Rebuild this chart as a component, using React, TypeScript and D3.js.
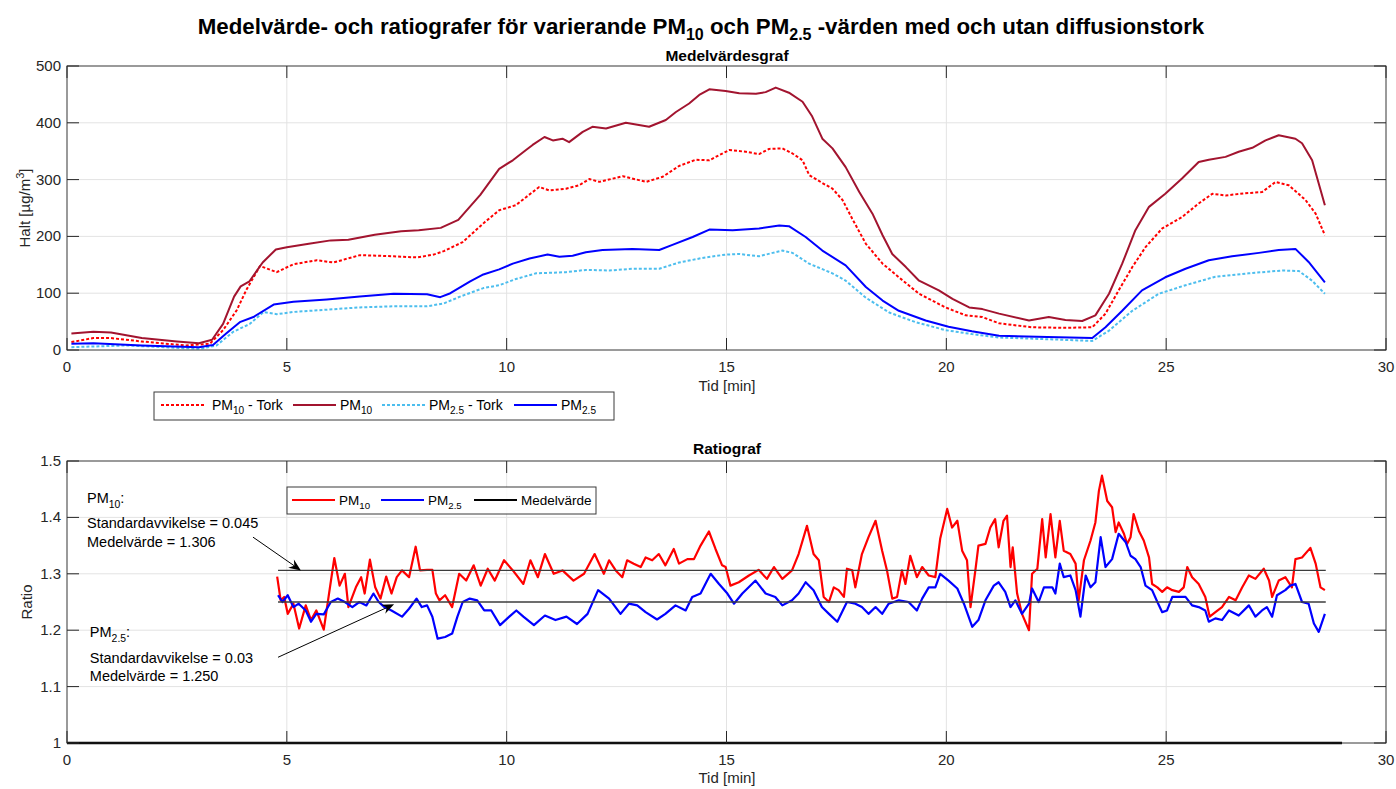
import React from "react";
import * as d3 from "d3";

// ---------- Top chart (Medelvärdesgraf) ----------
const pm10TorkT = [0.1, 0.6, 1.0, 1.7, 2.7, 3.25, 3.55, 3.86, 4.08, 4.39, 4.77, 5.15, 5.68, 6.06, 6.66, 7.43, 7.96, 8.34, 8.57, 9.0, 9.5, 9.83, 10.21, 10.44, 10.74, 10.97, 11.35, 11.65, 11.88, 12.11, 12.64, 13.17, 13.55, 13.92, 14.3, 14.61, 14.83, 15.06, 15.44, 15.74, 15.97, 16.27, 16.5, 16.73, 16.88, 17.18, 17.41, 17.64, 17.86, 18.17, 18.55, 18.92, 19.38, 19.98, 20.44, 20.82, 21.2, 21.95, 22.71, 23.32, 23.62, 23.92, 24.23, 24.53, 24.91, 25.36, 25.74, 26.05, 26.35, 26.8, 27.18, 27.49, 27.79, 28.17, 28.4, 28.61];
const pm10TorkV = [14, 21, 21, 15, 8, 11, 35, 70, 106, 148, 137, 151, 158, 154, 167, 165, 163, 168, 174, 190, 225, 246, 255, 269, 287, 281, 284, 290, 301, 296, 306, 296, 305, 324, 335, 334, 343, 352, 349, 345, 354, 355, 346, 334, 308, 294, 284, 264, 231, 187, 152, 128, 99, 75, 61, 58, 47, 40, 39, 40, 64, 105, 146, 181, 214, 234, 258, 275, 272, 276, 278, 296, 290, 264, 240, 202];

const pm10T = [0.1, 0.6, 1.0, 1.7, 2.5, 3.0, 3.3, 3.55, 3.8, 3.95, 4.15, 4.45, 4.75, 5.0, 5.5, 6.0, 6.4, 7.0, 7.6, 8.0, 8.5, 8.9, 9.4, 9.83, 10.14, 10.44, 10.59, 10.86, 11.05, 11.27, 11.42, 11.73, 11.95, 12.26, 12.71, 13.24, 13.62, 13.85, 14.15, 14.38, 14.61, 14.98, 15.29, 15.67, 15.89, 16.12, 16.42, 16.73, 16.95, 17.18, 17.41, 17.71, 18.02, 18.32, 18.55, 18.77, 19.08, 19.38, 19.83, 20.14, 20.52, 20.82, 21.2, 21.88, 22.33, 22.71, 23.09, 23.39, 23.7, 24.0, 24.3, 24.61, 24.98, 25.36, 25.74, 25.97, 26.35, 26.65, 26.96, 27.26, 27.56, 27.94, 28.09, 28.32, 28.61];
const pm10V = [29, 32, 31, 21, 15, 12, 18, 46, 94, 112, 121, 154, 177, 181, 187, 193, 194, 203, 209, 211, 215, 229, 273, 319, 334, 352, 361, 375, 369, 372, 366, 384, 393, 390, 400, 393, 405, 419, 434, 449, 459, 456, 452, 451, 454, 462, 453, 437, 411, 372, 355, 322, 278, 240, 202, 169, 146, 122, 105, 90, 75, 72, 64, 52, 58, 53, 51, 61, 99, 152, 211, 252, 275, 302, 331, 335, 340, 349, 356, 369, 378, 372, 364, 334, 255];

const pm25TorkT = [0.1, 1.36, 3.02, 3.4, 3.78, 4.16, 4.47, 4.77, 5.15, 5.91, 6.66, 7.43, 8.19, 8.57, 8.94, 9.47, 9.83, 10.21, 10.67, 11.35, 11.8, 12.33, 12.86, 13.47, 13.92, 14.45, 14.98, 15.29, 15.74, 16.05, 16.27, 16.5, 16.88, 17.41, 17.71, 18.17, 18.7, 19.3, 19.98, 20.58, 21.2, 22.3, 23.32, 23.7, 24.23, 24.83, 25.44, 26.12, 26.88, 27.64, 28.02, 28.32, 28.61];
const pm25TorkV = [5, 8, 2, 8, 32, 46, 67, 63, 67, 71, 75, 77, 77, 82, 94, 109, 114, 125, 135, 137, 141, 140, 143, 143, 154, 162, 168, 169, 165, 171, 175, 171, 152, 135, 122, 92, 66, 49, 35, 28, 22, 19, 16, 34, 69, 99, 114, 129, 135, 140, 139, 122, 99];

const pm25T = [0.1, 0.6, 1.7, 3.0, 3.32, 3.62, 3.93, 4.24, 4.7, 5.15, 5.91, 6.66, 7.43, 8.19, 8.49, 8.72, 9.17, 9.47, 9.83, 10.14, 10.52, 10.93, 11.2, 11.5, 11.8, 12.18, 12.86, 13.47, 13.77, 14.23, 14.61, 15.14, 15.74, 16.2, 16.42, 16.8, 17.18, 17.71, 18.17, 18.55, 18.92, 19.53, 20.05, 20.58, 21.2, 22.3, 23.32, 23.62, 24.0, 24.45, 24.98, 25.44, 25.97, 26.5, 27.11, 27.56, 27.94, 28.24, 28.61];
const pm25V = [11, 12, 8, 5, 9, 29, 49, 58, 80, 85, 89, 94, 99, 98, 93, 100, 121, 133, 142, 152, 161, 168, 164, 166, 172, 176, 178, 176, 185, 199, 212, 211, 214, 219, 218, 199, 175, 149, 111, 87, 69, 52, 41, 33, 25, 23, 21, 40, 69, 105, 128, 143, 158, 165, 171, 176, 178, 155, 119];

// ---------- Bottom chart (Ratiograf) ----------
const ratio10T = [4.78, 4.86, 4.94, 5.02, 5.15, 5.28, 5.43, 5.55, 5.67, 5.84, 5.96, 6.08, 6.2, 6.32, 6.4, 6.57, 6.69, 6.77, 6.89, 7.01, 7.13, 7.26, 7.38, 7.5, 7.62, 7.78, 7.93, 8.03, 8.19, 8.31, 8.39, 8.47, 8.6, 8.76, 8.92, 9.08, 9.25, 9.41, 9.57, 9.73, 9.94, 10.14, 10.38, 10.54, 10.71, 10.87, 11.07, 11.27, 11.52, 11.76, 12.0,
  12.21, 12.33, 12.48, 12.63, 12.74, 12.89, 13.05, 13.16, 13.31, 13.46, 13.61, 13.8, 13.92, 14.11, 14.26, 14.41, 14.6, 14.75, 14.9, 14.98, 15.09, 15.28, 15.51, 15.73, 15.92, 16.08, 16.27, 16.49, 16.64, 16.83, 16.98, 17.1, 17.21, 17.33, 17.44, 17.55, 17.67, 17.74, 17.86, 17.93, 18.08, 18.23, 18.39, 18.54, 18.65, 18.77, 18.88, 18.99, 19.07, 19.18, 19.33, 19.45, 19.6, 19.75, 19.86, 20.02, 20.13, 20.25, 20.36, 20.47, 20.55, 20.66, 20.73, 20.89, 21.0, 21.11,
  21.19, 21.3, 21.38, 21.46, 21.51, 21.61, 21.72, 21.88, 21.95, 22.07, 22.18, 22.26, 22.37, 22.48, 22.58, 22.67, 22.82, 22.94, 23.01, 23.13, 23.28, 23.39, 23.47, 23.54, 23.66, 23.77, 23.85, 23.92, 24.04, 24.11, 24.19, 24.26, 24.38, 24.49, 24.61, 24.68, 24.8, 24.91, 25.02, 25.14, 25.29, 25.4, 25.48, 25.59, 25.74, 25.89, 25.99, 26.12, 26.27, 26.43, 26.58, 26.73, 26.88, 27.03, 27.22, 27.34, 27.41, 27.56, 27.71, 27.86, 27.94, 28.09, 28.28, 28.4, 28.51, 28.61];
const ratio10V = [1.295, 1.253, 1.259, 1.229, 1.247, 1.203, 1.244, 1.218, 1.235, 1.201, 1.265, 1.328, 1.279, 1.3, 1.241, 1.276, 1.294, 1.265, 1.325, 1.276, 1.256, 1.295, 1.265, 1.294, 1.306, 1.294, 1.348, 1.306, 1.307, 1.307, 1.265, 1.253, 1.262, 1.241, 1.3, 1.288, 1.315, 1.279, 1.309, 1.288, 1.324, 1.306, 1.282, 1.324, 1.294, 1.335, 1.3, 1.306, 1.288, 1.3, 1.335,
  1.3, 1.324, 1.306, 1.294, 1.324, 1.318, 1.312, 1.329, 1.324, 1.335, 1.315, 1.344, 1.318, 1.326, 1.326, 1.35, 1.375, 1.344, 1.315, 1.312, 1.279, 1.285, 1.297, 1.307, 1.291, 1.312, 1.291, 1.306, 1.335, 1.385, 1.335, 1.324, 1.259, 1.25, 1.276, 1.271, 1.259, 1.309, 1.306, 1.276, 1.335, 1.365, 1.394, 1.341, 1.306, 1.256, 1.259, 1.306, 1.282, 1.332, 1.294, 1.312, 1.297, 1.294, 1.362, 1.415, 1.382, 1.394, 1.341, 1.324, 1.241, 1.306, 1.35, 1.353, 1.382, 1.397,
  1.347, 1.394, 1.403, 1.312, 1.347, 1.265, 1.229, 1.2, 1.3, 1.309, 1.397, 1.329, 1.406, 1.329, 1.394, 1.341, 1.335, 1.318, 1.253, 1.324, 1.359, 1.391, 1.447, 1.474, 1.429, 1.418, 1.374, 1.391, 1.371, 1.353, 1.365, 1.406, 1.376, 1.359, 1.329, 1.282, 1.276, 1.268, 1.276, 1.271, 1.268, 1.276, 1.312, 1.294, 1.282, 1.259, 1.224, 1.232, 1.241, 1.259, 1.253, 1.276, 1.297, 1.291, 1.309, 1.288, 1.259, 1.288, 1.294, 1.276, 1.326, 1.329, 1.346, 1.318, 1.276, 1.271];

const ratio25T = [4.8, 4.9, 5.02, 5.15, 5.27, 5.43, 5.55, 5.67, 5.84, 6.0, 6.16, 6.32, 6.49, 6.65, 6.81, 6.97, 7.09, 7.22, 7.38, 7.62, 7.78, 7.95, 8.07, 8.19, 8.31, 8.43, 8.6, 8.76, 8.88, 9.0, 9.16, 9.33, 9.49, 9.65, 9.85, 10.06, 10.22, 10.38, 10.62, 10.87, 11.11, 11.36, 11.6, 11.84, 12.08,
  12.33, 12.59, 12.78, 12.97, 13.16, 13.42, 13.61, 13.84, 14.07, 14.22, 14.41, 14.52, 14.64, 14.83, 15.02, 15.17, 15.36, 15.66, 15.89, 16.11, 16.27, 16.49, 16.64, 16.8, 16.98, 17.17, 17.33, 17.52, 17.74, 17.93, 18.08, 18.23, 18.39, 18.54, 18.69, 18.92, 19.14, 19.33, 19.45, 19.6, 19.75, 19.86, 20.05, 20.25, 20.4, 20.59, 20.73, 20.89, 21.08,
  21.19, 21.34, 21.46, 21.57, 21.72, 21.88, 21.95, 22.1, 22.22, 22.41, 22.48, 22.58, 22.67, 22.82, 22.94, 23.05, 23.17, 23.28, 23.39, 23.51, 23.62, 23.77, 23.92, 24.08, 24.19, 24.3, 24.42, 24.53, 24.68, 24.8, 24.91, 25.02, 25.14, 25.29, 25.44, 25.59, 25.74, 25.89, 25.97, 26.12, 26.27, 26.43, 26.65, 26.88, 27.03, 27.18, 27.29, 27.41, 27.52, 27.71, 27.82, 27.94, 28.09, 28.24, 28.36, 28.47, 28.61];
const ratio25V = [1.262, 1.25, 1.262, 1.241, 1.247, 1.235, 1.215, 1.229, 1.228, 1.25, 1.256, 1.25, 1.241, 1.25, 1.244, 1.265, 1.25, 1.241, 1.235, 1.224, 1.238, 1.256, 1.241, 1.244, 1.224, 1.185, 1.188, 1.194, 1.224, 1.25, 1.256, 1.253, 1.235, 1.235, 1.209, 1.224, 1.235, 1.224, 1.209, 1.226, 1.218, 1.224, 1.211, 1.229, 1.271,
  1.256, 1.229, 1.247, 1.244, 1.232, 1.219, 1.229, 1.244, 1.235, 1.259, 1.265, 1.282, 1.3, 1.282, 1.265, 1.247, 1.265, 1.288, 1.265, 1.259, 1.244, 1.253, 1.265, 1.285, 1.271, 1.241, 1.229, 1.215, 1.25, 1.247, 1.241, 1.229, 1.241, 1.229, 1.247, 1.253, 1.25, 1.235, 1.256, 1.276, 1.276, 1.3, 1.288, 1.274, 1.247, 1.206, 1.218, 1.253, 1.279,
  1.285, 1.268, 1.241, 1.253, 1.229, 1.247, 1.274, 1.25, 1.276, 1.276, 1.265, 1.318, 1.294, 1.297, 1.271, 1.224, 1.297, 1.276, 1.285, 1.365, 1.312, 1.326, 1.371, 1.356, 1.332, 1.326, 1.312, 1.279, 1.271, 1.25, 1.232, 1.235, 1.259, 1.259, 1.259, 1.244, 1.241, 1.235, 1.215, 1.221, 1.218, 1.235, 1.226, 1.244, 1.224, 1.235, 1.241, 1.224, 1.262, 1.271, 1.279, 1.282, 1.25, 1.247, 1.212, 1.197, 1.229];

const meanPm10 = 1.306;
const meanPm25 = 1.25;
const meanRange = [4.8, 28.63];
const baseLineRange = [0, 29];

const xTicks = [0, 5, 10, 15, 20, 25, 30];
const yTopTicks = [0, 100, 200, 300, 400, 500];
const yBotTicks = [1, 1.1, 1.2, 1.3, 1.4, 1.5];

const COL = {
  pm10Tork: "#ff0000",
  pm10: "#a2142f",
  pm25Tork: "#4dbeee",
  pm25: "#0000ff",
  axis: "#262626",
  grid: "#e3e3e3",
};
const FONT = "'Liberation Sans', Arial, Helvetica, sans-serif";

function zip(t: number[], v: number[]) {
  return t.map((d, i) => [d, v[i]] as [number, number]);
}

function Arrow({ x1, y1, x2, y2 }: { x1: number; y1: number; x2: number; y2: number }) {
  const dx = x2 - x1, dy = y2 - y1;
  const L = Math.hypot(dx, dy);
  const ux = dx / L, uy = dy / L;
  const px = -uy, py = ux;
  const hl = 12, hw = 5, notch = 4;
  const bx = x2 - ux * hl, by = y2 - uy * hl;
  const nx = x2 - ux * (hl - notch), ny = y2 - uy * (hl - notch);
  const head = `M${x2},${y2} L${bx + px * hw},${by + py * hw} L${nx},${ny} L${bx - px * hw},${by - py * hw} Z`;
  return (
    <g>
      <line x1={x1} y1={y1} x2={nx} y2={ny} stroke="#000" strokeWidth={1} />
      <path d={head} fill="#000" />
    </g>
  );
}

function Grid({ x, y, xt, yt }: any) {
  const [x0, x1] = x.range();
  const [y0, y1] = y.range();
  return (
    <g>
      {xt.map((t: number) => (
        <line key={"gx" + t} x1={x(t)} x2={x(t)} y1={y0} y2={y1} stroke={COL.grid} strokeWidth={1} />
      ))}
      {yt.map((t: number) => (
        <line key={"gy" + t} x1={x0} x2={x1} y1={y(t)} y2={y(t)} stroke={COL.grid} strokeWidth={1} />
      ))}
    </g>
  );
}

function AxesFrame({ x, y, xt, yt, fmtY }: any) {
  const [x0, x1] = x.range();
  const [y0, y1] = y.range();
  const tl = 12;
  return (
    <g fontFamily={FONT} fontSize={15} fill={COL.axis}>
      <rect x={x0} y={y1} width={x1 - x0} height={y0 - y1} fill="none" stroke={COL.axis} strokeWidth={1} opacity={0.85} />
      {xt.map((t: number) => (
        <g key={"tx" + t}>
          <line x1={x(t)} x2={x(t)} y1={y0} y2={y0 - tl} stroke={COL.axis} />
          <line x1={x(t)} x2={x(t)} y1={y1} y2={y1 + tl} stroke={COL.axis} />
          <text x={x(t)} y={y0 + 22} textAnchor="middle" stroke="none">{t}</text>
        </g>
      ))}
      {yt.map((t: number) => (
        <g key={"ty" + t}>
          <line x1={x0} x2={x0 + tl} y1={y(t)} y2={y(t)} stroke={COL.axis} />
          <line x1={x1} x2={x1 - tl} y1={y(t)} y2={y(t)} stroke={COL.axis} />
          <text x={x0 - 6} y={y(t) + 5} textAnchor="end" stroke="none">{fmtY(t)}</text>
        </g>
      ))}
    </g>
  );
}

function Sub({ base, sub, rest, size }: { base: string; sub: string; rest?: string; size: number }) {
  const s = Math.round(size * 0.72 * 10) / 10;
  const dy = size * 0.32;
  return (
    <>
      <tspan>{base}</tspan>
      <tspan fontSize={s} dy={dy}>{sub}</tspan>
      {rest !== undefined ? <tspan dy={-dy}>{rest}</tspan> : null}
    </>
  );
}

export default function App() {
  const x = d3.scaleLinear().domain([0, 30]).range([67, 1386]);
  const yTop = d3.scaleLinear().domain([0, 500]).range([350, 66]);
  const yBot = d3.scaleLinear().domain([1, 1.5]).range([743, 461]);

  const lineTop = d3.line<[number, number]>().x((d) => x(d[0])).y((d) => yTop(d[1]));
  const lineBot = d3.line<[number, number]>().x((d) => x(d[0])).y((d) => yBot(d[1]));

  const topSeries = [
    { t: pm25TorkT, v: pm25TorkV, c: COL.pm25Tork, dash: "3,2" },
    { t: pm10TorkT, v: pm10TorkV, c: COL.pm10Tork, dash: "3,2" },
    { t: pm25T, v: pm25V, c: COL.pm25, dash: undefined },
    { t: pm10T, v: pm10V, c: COL.pm10, dash: undefined },
  ];

  return (
    <svg width={1396} height={789} style={{ position: "absolute", left: 0, top: 0, background: "#fff" }} fontFamily={FONT}>
      <rect x={0} y={0} width={1396} height={789} fill="#fff" />
      {/* Title */}
      <text x={701} y={34} textAnchor="middle" fontSize={22.3} fontWeight="bold" fill="#000">
        <tspan>Medelvärde- och ratiografer för varierande PM</tspan>
        <tspan fontSize={16} dy={6}>10</tspan>
        <tspan dy={-6}> och PM</tspan>
        <tspan fontSize={16} dy={6}>2.5</tspan>
        <tspan dy={-6}> -värden med och utan diffusionstork</tspan>
      </text>

      {/* ---------- Top chart ---------- */}
      <text x={727} y={61} textAnchor="middle" fontSize={15.5} fontWeight="bold" fill="#000">Medelvärdesgraf</text>
      <Grid x={x} y={yTop} xt={xTicks} yt={yTopTicks} />
      <g fill="none" strokeWidth={2} strokeLinejoin="round">
        {topSeries.map((s, i) => (
          <path key={i} d={lineTop(zip(s.t, s.v)) || ""} stroke={s.c} strokeDasharray={s.dash} />
        ))}
      </g>
      <AxesFrame x={x} y={yTop} xt={xTicks} yt={yTopTicks} fmtY={(t: number) => String(t)} />
      <text x={727} y={391} textAnchor="middle" fontSize={15} fill={COL.axis}>Tid [min]</text>
      <text transform="translate(30,208) rotate(-90)" textAnchor="middle" fontSize={15} fill={COL.axis}>
        <tspan>Halt [µg/m</tspan>
        <tspan fontSize={11} dy={-6}>3</tspan>
        <tspan dy={6}>]</tspan>
      </text>

      {/* Top legend */}
      <g fontSize={14} fill="#000">
        <rect x={154} y={392} width={460} height={28} fill="#fff" stroke={COL.axis} strokeWidth={1} opacity={0.9} />
        <line x1={161} x2={205} y1={405} y2={405} stroke={COL.pm10Tork} strokeWidth={2} strokeDasharray="3,2" />
        <text x={212} y={410}><Sub base="PM" sub="10" rest=" - Tork" size={14} /></text>
        <line x1={293} x2={336} y1={405} y2={405} stroke={COL.pm10} strokeWidth={2} />
        <text x={340} y={410}><Sub base="PM" sub="10" size={14} /></text>
        <line x1={382} x2={426} y1={405} y2={405} stroke={COL.pm25Tork} strokeWidth={2} strokeDasharray="3,2" />
        <text x={429} y={410}><Sub base="PM" sub="2.5" rest=" - Tork" size={14} /></text>
        <line x1={514} x2={557} y1={405} y2={405} stroke={COL.pm25} strokeWidth={2} />
        <text x={561} y={410}><Sub base="PM" sub="2.5" size={14} /></text>
      </g>

      {/* ---------- Bottom chart ---------- */}
      <text x={727} y={454} textAnchor="middle" fontSize={15.5} fontWeight="bold" fill="#000">Ratiograf</text>
      <Grid x={x} y={yBot} xt={xTicks} yt={yBotTicks} />
      <g fill="none" strokeWidth={2.2} strokeLinejoin="round">
        <path d={lineBot(zip(ratio10T, ratio10V)) || ""} stroke="#ff0000" />
        <path d={lineBot(zip(ratio25T, ratio25V)) || ""} stroke="#0000ff" />
      </g>
      <g stroke="#3c3c3c" strokeWidth={1.3}>
        <line x1={x(meanRange[0])} x2={x(meanRange[1])} y1={yBot(meanPm10)} y2={yBot(meanPm10)} />
        <line x1={x(meanRange[0])} x2={x(meanRange[1])} y1={yBot(meanPm25)} y2={yBot(meanPm25)} />
      </g>
      <line x1={x(baseLineRange[0])} x2={x(baseLineRange[1])} y1={yBot(1)} y2={yBot(1)} stroke="#000" strokeWidth={2.5} />
      <AxesFrame x={x} y={yBot} xt={xTicks} yt={yBotTicks} fmtY={(t: number) => (t === 1 ? "1" : t.toFixed(1))} />
      <text x={727} y={783} textAnchor="middle" fontSize={15} fill={COL.axis}>Tid [min]</text>
      <text transform="translate(32,602) rotate(-90)" textAnchor="middle" fontSize={15} fill={COL.axis}>Ratio</text>

      {/* Bottom legend */}
      <g fontSize={13.5} fill="#000">
        <rect x={287} y={487} width={309} height={27} fill="#fff" stroke={COL.axis} strokeWidth={1} opacity={0.9} />
        <line x1={292} x2={335} y1={500} y2={500} stroke="#ff0000" strokeWidth={2.2} />
        <text x={339} y={505}><Sub base="PM" sub="10" size={13.5} /></text>
        <line x1={381} x2={424} y1={500} y2={500} stroke="#0000ff" strokeWidth={2.2} />
        <text x={428} y={505}><Sub base="PM" sub="2.5" size={13.5} /></text>
        <line x1={474} x2={517} y1={500} y2={500} stroke="#000" strokeWidth={2.2} />
        <text x={521} y={505}>Medelvärde</text>
      </g>

      {/* Annotations */}
      <g fontSize={14.5} fill="#000">
        <text x={x(0.455)} y={yBot(1.4255)}><Sub base="PM" sub="10" rest=":" size={14.5} /></text>
        <text x={x(0.455)} y={yBot(1.381)}>Standardavvikelse = 0.045</text>
        <text x={x(0.455)} y={yBot(1.3475)}>Medelvärde = 1.306</text>
        <text x={x(0.52)} y={yBot(1.188)}><Sub base="PM" sub="2.5" rest=":" size={14.5} /></text>
        <text x={x(0.52)} y={yBot(1.142)}>Standardavvikelse = 0.03</text>
        <text x={x(0.52)} y={yBot(1.11)}>Medelvärde = 1.250</text>
      </g>
      <Arrow x1={x(4.23)} y1={yBot(1.365)} x2={x(5.32)} y2={yBot(1.306)} />
      <Arrow x1={x(4.8)} y1={yBot(1.152)} x2={x(7.44)} y2={yBot(1.246)} />
    </svg>
  );
}
